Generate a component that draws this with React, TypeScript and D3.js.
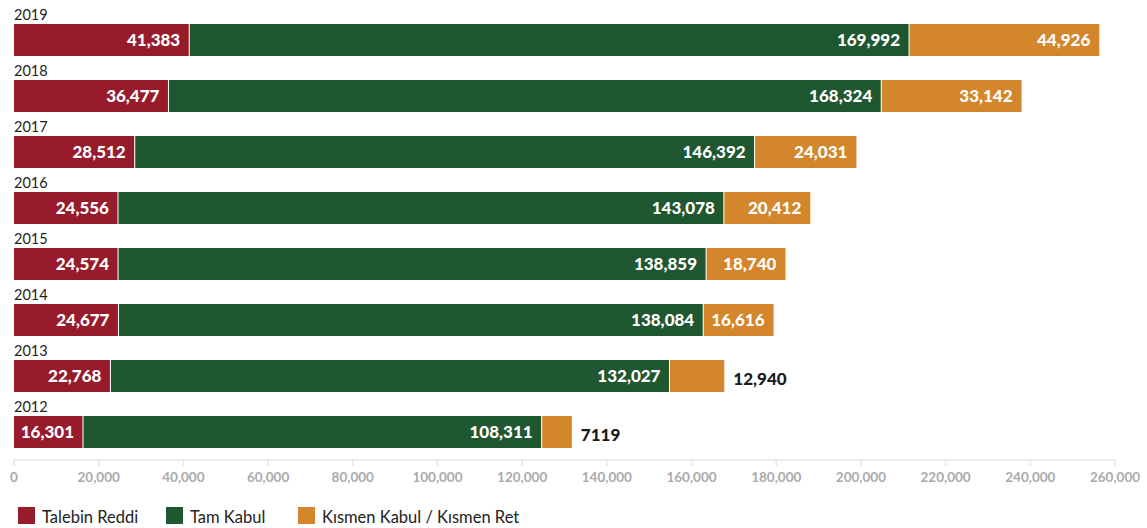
import React from "react";
import * as d3 from "d3";

const years = ["2019", "2018", "2017", "2016", "2015", "2014", "2013", "2012"];
const reddi = [41383, 36477, 28512, 24556, 24574, 24677, 22768, 16301];
const tamKabul = [169992, 168324, 146392, 143078, 138859, 138084, 132027, 108311];
const kismen = [44926, 33142, 24031, 20412, 18740, 16616, 12940, 7119];
const kismenLabels = ["44,926", "33,142", "24,031", "20,412", "18,740", "16,616", "12,940", "7119"];
const kismenInside = [true, true, true, true, true, true, false, false];
const seriesNames = ["Talebin Reddi", "Tam Kabul", "Kısmen Kabul / Kısmen Ret"];
const colors = ["#971b2a", "#1f5730", "#d3862b"];
const ticks = [0, 20000, 40000, 60000, 80000, 100000, 120000, 140000, 160000, 180000, 200000, 220000, 240000, 260000];

const W = 1147;
const H = 528;
const FONT = "Lato, 'Open Sans', sans-serif";

export default function App() {
  const x = d3.scaleLinear().domain([0, 260000]).range([14, 1115]);
  const fmt = d3.format(",");
  const bh = 32;
  const step = 56;

  return (
    <svg width={W} height={H} style={{ position: "absolute", left: 0, top: 0 }} fontFamily={FONT}>
      {years.map((yr, i) => {
        const y0 = 24 + i * step;
        const a = reddi[i];
        const b = tamKabul[i];
        const c = kismen[i];
        const x0 = x(0);
        const x1 = x(a);
        const x2 = x(a + b);
        const x3 = x(a + b + c);
        const cy = y0 + bh / 2;
        return (
          <g key={yr}>
            <text x={14} y={y0 - 4} fontSize={14.5} fill="#222">{yr}</text>
            <rect x={x0} y={y0} width={x1 - x0} height={bh} fill={colors[0]} />
            <rect x={x1} y={y0} width={x2 - x1} height={bh} fill={colors[1]} />
            <rect x={x2} y={y0} width={x3 - x2} height={bh} fill={colors[2]} />
            <line x1={x1} x2={x1} y1={y0} y2={y0 + bh} stroke="#fff" strokeWidth={1} />
            <line x1={x2} x2={x2} y1={y0} y2={y0 + bh} stroke="#fff" strokeWidth={1} />
            <text x={x1 - 9} y={cy} dy="0.36em" textAnchor="end" fontSize={17} fontWeight={900} fill="#fff">{fmt(a)}</text>
            <text x={x2 - 9} y={cy} dy="0.36em" textAnchor="end" fontSize={17} fontWeight={900} fill="#fff">{fmt(b)}</text>
            {kismenInside[i] ? (
              <text x={x3 - 9} y={cy} dy="0.36em" textAnchor="end" fontSize={17} fontWeight={900} fill="#fff">{kismenLabels[i]}</text>
            ) : (
              <text x={x3 + 9} y={cy + 3} dy="0.36em" textAnchor="start" fontSize={17} fontWeight={900} fill="#1a1a1a">{kismenLabels[i]}</text>
            )}
          </g>
        );
      })}
      <line x1={x(0)} x2={x(260000)} y1={460} y2={460} stroke="#e6e6e6" strokeWidth={1.5} />
      {ticks.map((t) => (
        <g key={t}>
          <line x1={x(t)} x2={x(t)} y1={460} y2={466} stroke="#e6e6e6" strokeWidth={1.5} />
          <text x={x(t)} y={482} textAnchor="middle" fontSize={13.5} fontWeight={700} fill="#aaaaaa">{fmt(t)}</text>
        </g>
      ))}
      {seriesNames.map((n, i) => {
        const lx = [18, 166, 298][i];
        return (
          <g key={n}>
            <rect x={lx} y={507} width={17} height={17} fill={colors[i]} />
            <text x={lx + 24} y={523} fontSize={16.5} fill="#222">{n}</text>
          </g>
        );
      })}
    </svg>
  );
}
